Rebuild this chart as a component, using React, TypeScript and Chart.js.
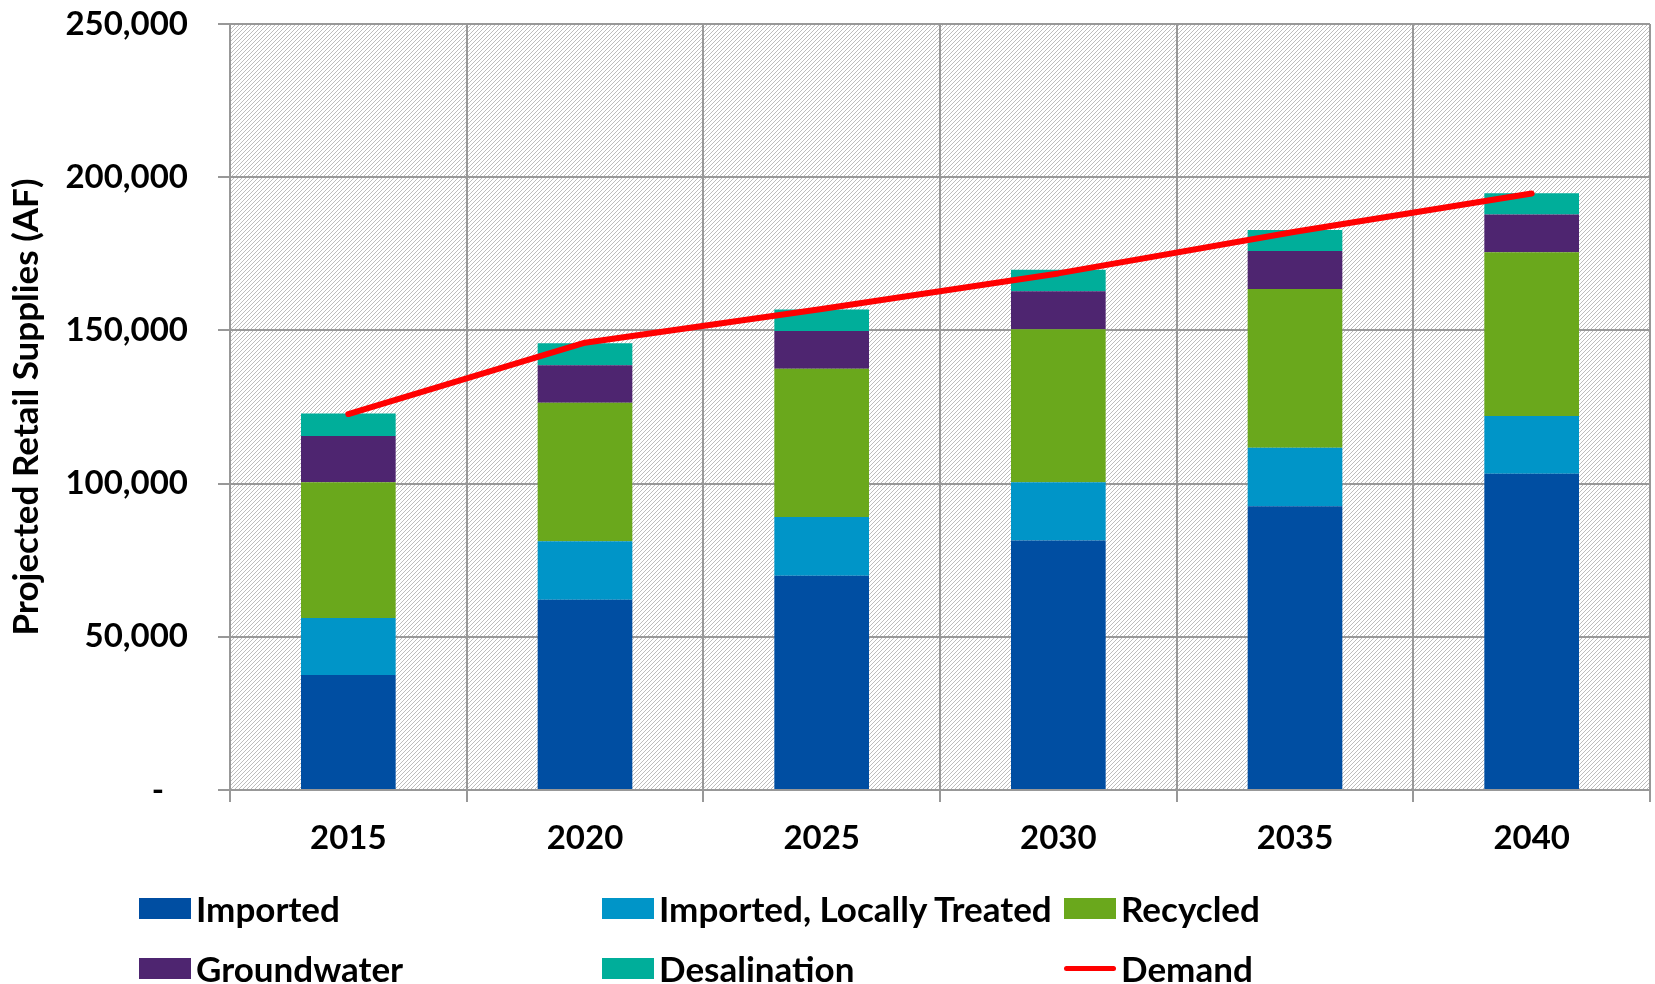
import React, { useEffect, useRef } from 'react';
import { Chart, registerables } from 'chart.js';

Chart.register(...registerables);

const years = ['2015', '2020', '2025', '2030', '2035', '2040'];
const imported = [37500, 62100, 69900, 81400, 92600, 103200];
const importedLocallyTreated = [18600, 19100, 19200, 19000, 19100, 18900];
const recycled = [44300, 45200, 48400, 50000, 51800, 53400];
const groundwater = [15100, 12200, 12300, 12400, 12400, 12300];
const desalination = [7400, 7200, 7000, 7000, 6900, 7000];
const demand = [122700, 146000, 157000, 168600, 182200, 194700];
const yTickValues = [0, 50000, 100000, 150000, 200000, 250000];

const seriesNames = ['Imported', 'Imported, Locally Treated', 'Recycled', 'Groundwater', 'Desalination', 'Demand'];
const seriesColors = ['#004EA2', '#0095C8', '#6AA81C', '#4E2570', '#00AE9A', '#FF0000'];
const yTitle = 'Projected Retail Supplies (AF)';

const FONT = 'Lato, "DejaVu Sans", sans-serif';
const GRID = '#989898';

const hatchPlugin = {
  id: 'hatch',
  beforeDraw(chart: any) {
    const { ctx, chartArea, width, height } = chart;
    ctx.save();
    ctx.fillStyle = '#ffffff';
    ctx.fillRect(0, 0, width, height);
    const c = document.createElement('canvas');
    c.width = 4;
    c.height = 4;
    const p = c.getContext('2d')!;
    p.fillStyle = '#ffffff';
    p.fillRect(0, 0, 4, 4);
    p.fillStyle = '#bdbdbd';
    for (let y = 0; y < 4; y++) p.fillRect(3 - y, y, 1, 1);
    const pat = ctx.createPattern(c, 'repeat');
    ctx.fillStyle = pat;
    ctx.fillRect(chartArea.left, chartArea.top, chartArea.right - chartArea.left, chartArea.bottom - chartArea.top);
    ctx.restore();
  },
};

function LegendItem({ i, x, y }: { i: number; x: number; y: number }) {
  const isLine = i === 5;
  return (
    <div
      style={{
        position: 'absolute',
        left: x,
        top: y - 25,
        height: 50,
        display: 'flex',
        alignItems: 'center',
        whiteSpace: 'nowrap',
        fontFamily: FONT,
        fontWeight: 700,
        fontSize: 35,
        lineHeight: 1,
        color: '#000',
      }}
    >
      <div
        style={{
          width: 52,
          height: isLine ? 5 : 21,
          borderRadius: isLine ? 3 : 0,
          background: seriesColors[i],
          marginRight: 5,
        }}
      />
      <span>{seriesNames[i]}</span>
    </div>
  );
}

export default function App() {
  const ref = useRef<HTMLCanvasElement>(null);

  useEffect(() => {
    document.body.style.margin = '0';
    const canvas = ref.current!;
    const barData = [imported, importedLocallyTreated, recycled, groundwater, desalination];
    const chart = new Chart(canvas, {
      type: 'bar',
      data: {
        labels: years,
        datasets: [
          ...barData.map((d, i) => ({
            type: 'bar' as const,
            label: seriesNames[i],
            data: d,
            backgroundColor: seriesColors[i],
            borderWidth: 0,
            barPercentage: 0.4,
            categoryPercentage: 1,
            order: 2,
          })),
          {
            type: 'line' as const,
            label: seriesNames[5],
            data: demand,
            borderColor: seriesColors[5],
            backgroundColor: seriesColors[5],
            borderWidth: 6,
            pointRadius: 0,
            tension: 0,
            borderCapStyle: 'round',
            borderJoinStyle: 'round',
            order: 0,
          } as any,
        ],
      },
      options: {
        responsive: false,
        animation: false,
        events: [],
        layout: { padding: { top: 24, left: 0, right: 5, bottom: 0 } },
        plugins: {
          legend: { display: false },
          tooltip: { enabled: false },
          title: { display: false },
        },
        scales: {
          x: {
            stacked: true,
            offset: true,
            grid: {
              display: true,
              offset: true,
              color: GRID,
              lineWidth: 2,
              tickLength: 12,
            },
            border: { display: true, color: GRID, width: 2 },
            ticks: {
              color: '#000',
              font: { family: FONT, size: 33, weight: 'bold' },
              padding: 17,
              maxRotation: 0,
            },
            afterFit(scale: any) {
              scale.height = 194;
              scale.paddingLeft = 0;
              scale.paddingRight = 0;
            },
          },
          y: {
            stacked: true,
            min: 0,
            max: 250000,
            afterBuildTicks(scale: any) {
              scale.ticks = yTickValues.map((v) => ({ value: v }));
            },
            grid: {
              color: GRID,
              lineWidth: 2,
              tickLength: 12,
            },
            border: { display: true, color: GRID, width: 2 },
            ticks: {
              color: '#000',
              font: { family: FONT, size: 33, weight: 'bold' },
              padding: 30,
              callback: (v: any) => (Number(v) === 0 ? '-   ' : Number(v).toLocaleString('en-US')),
            },
            title: {
              display: true,
              text: yTitle,
              color: '#000',
              font: { family: FONT, size: 35, weight: 'bold' },
              padding: { top: 6, bottom: 0 },
            },
            afterFit(scale: any) {
              scale.width = 230;
              scale.paddingTop = 0;
              scale.paddingBottom = 0;
            },
          },
        },
      },
      plugins: [hatchPlugin],
    });
    return () => chart.destroy();
  }, []);

  const cols = [139, 602, 1064];
  const rows = [908.5, 968.5];

  return (
    <div style={{ position: 'relative', width: 1655, height: 984, background: '#fff', overflow: 'hidden' }}>
      <canvas ref={ref} width={1655} height={984} style={{ display: 'block', width: 1655, height: 984 }} />
      {seriesNames.map((_, i) => (
        <LegendItem key={i} i={i} x={cols[i % 3]} y={rows[Math.floor(i / 3)]} />
      ))}
    </div>
  );
}
